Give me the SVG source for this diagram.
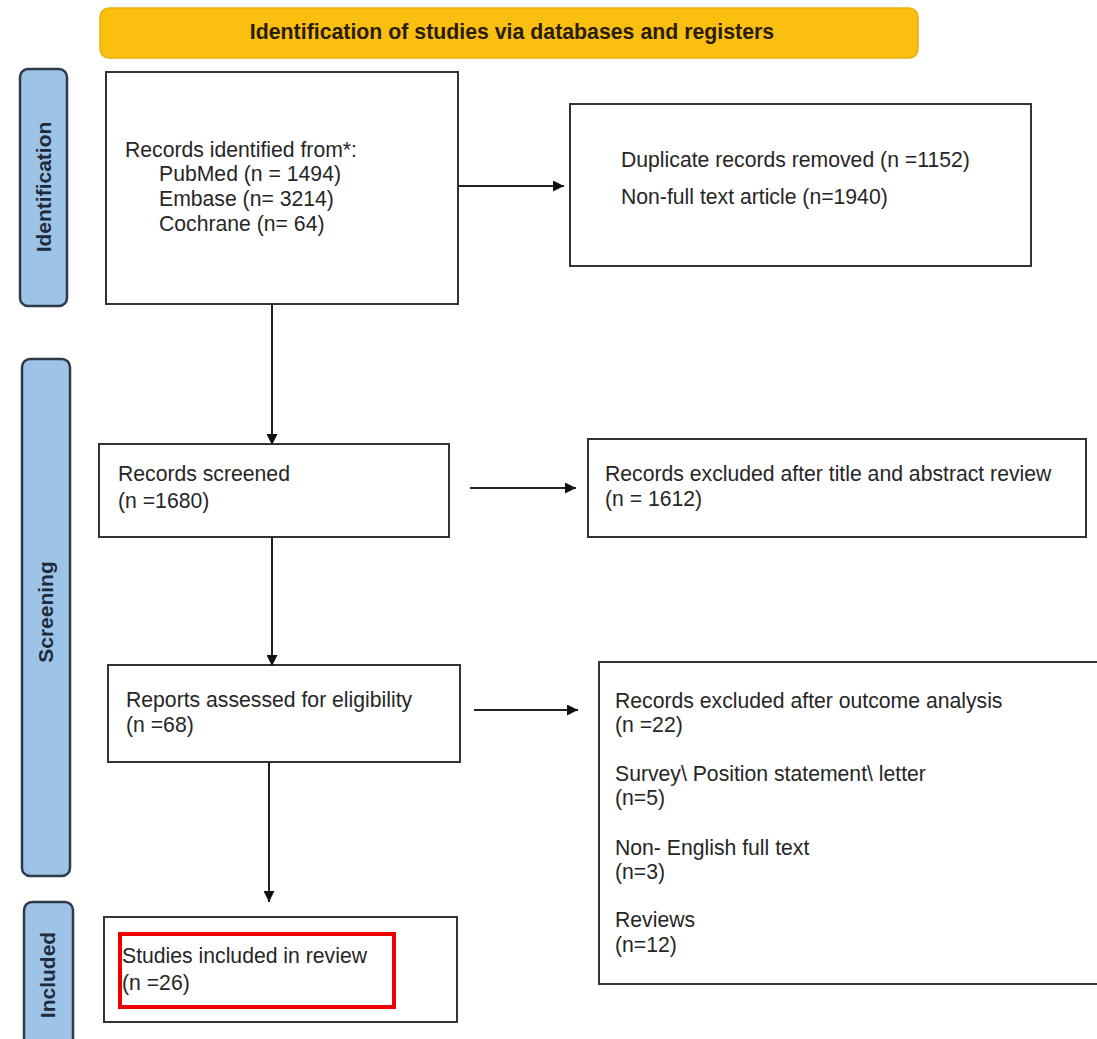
<svg xmlns="http://www.w3.org/2000/svg" width="1097" height="1039" viewBox="0 0 1097 1039">
<defs>
<style>
.box{fill:#fff;stroke:#333;stroke-width:2}
.lane{fill:#9dc3e6;stroke:#2e3a48;stroke-width:2.5}
.t{font-family:"Liberation Sans",Arial,sans-serif;font-size:21.2px;fill:#262626}
.lt{font-family:"Liberation Sans",Arial,sans-serif;font-size:21px;font-weight:bold;fill:#1f2a3a}
.ln{stroke:#222;stroke-width:2;fill:none}
</style>
<marker id="ah" viewBox="0 0 10 10" refX="10" refY="5" markerWidth="11" markerHeight="11" markerUnits="userSpaceOnUse" orient="auto">
<path d="M0,0 L10,5 L0,10 z" fill="#111"/>
</marker>
</defs>
<rect width="1097" height="1039" fill="#fff"/>
<g id="banner">
<rect x="100" y="8" width="818" height="50" rx="9" fill="#fbbf0f" stroke="#e8b00a" stroke-width="1.5"/>
<text x="512" y="39" text-anchor="middle" font-family="Liberation Sans,Arial,sans-serif" font-size="21.3" font-weight="bold" fill="#2a1c00">Identification of studies via databases and registers</text>
</g>
<g id="lane-identification">
<rect class="lane" x="20" y="69" width="47" height="237" rx="8"/>
<text class="lt" transform="translate(51,187) rotate(-90)" text-anchor="middle">Identification</text>
</g>
<g id="lane-screening">
<rect class="lane" x="22" y="359" width="48" height="517" rx="8"/>
<text class="lt" transform="translate(53,612) rotate(-90)" text-anchor="middle">Screening</text>
</g>
<g id="lane-included">
<rect class="lane" x="24" y="902" width="49" height="150" rx="8"/>
<text class="lt" transform="translate(55,975) rotate(-90)" text-anchor="middle">Included</text>
</g>
<g id="records-identified">
<rect class="box" x="106" y="72" width="352" height="232"/>
<text class="t" x="125" y="157">Records identified from*:</text>
<text class="t" x="159" y="181">PubMed (n = 1494)</text>
<text class="t" x="159" y="206">Embase (n= 3214)</text>
<text class="t" x="159" y="231">Cochrane (n= 64)</text>
</g>
<g id="duplicates-removed">
<rect class="box" x="570" y="104" width="461" height="162"/>
<text class="t" x="621" y="167">Duplicate records removed (n =1152)</text>
<text class="t" x="621" y="204">Non-full text article (n=1940)</text>
</g>
<g id="records-screened">
<rect class="box" x="99" y="444" width="350" height="93"/>
<text class="t" x="118" y="481">Records screened</text>
<text class="t" x="118" y="508">(n =1680)</text>
</g>
<g id="records-excluded">
<rect class="box" x="588" y="439" width="498" height="98"/>
<text class="t" x="605" y="481">Records excluded after title and abstract review</text>
<text class="t" x="605" y="506">(n = 1612)</text>
</g>
<g id="reports-assessed">
<rect class="box" x="108" y="665" width="352" height="97"/>
<text class="t" x="126" y="707">Reports assessed for eligibility</text>
<text class="t" x="126" y="732">(n =68)</text>
</g>
<g id="reports-excluded">
<rect class="box" x="599" y="662" width="500" height="322"/>
<text class="t" x="615" y="708">Records excluded after outcome analysis</text>
<text class="t" x="615" y="732">(n =22)</text>
<text class="t" x="615" y="781">Survey\ Position statement\ letter</text>
<text class="t" x="615" y="805">(n=5)</text>
<text class="t" x="615" y="855">Non- English full text</text>
<text class="t" x="615" y="879">(n=3)</text>
<text class="t" x="615" y="927">Reviews</text>
<text class="t" x="615" y="952">(n=12)</text>
</g>
<g id="studies-included">
<rect class="box" x="104" y="917" width="353" height="105"/>
<rect x="120" y="934" width="274" height="73" fill="none" stroke="#ee0000" stroke-width="4"/>
<text class="t" x="122" y="963">Studies included in review</text>
<text class="t" x="122" y="990">(n =26)</text>
</g>
<g id="connectors">
<line class="ln" x1="458" y1="186" x2="564" y2="186" marker-end="url(#ah)"/>
<line class="ln" x1="272" y1="304" x2="272" y2="445" marker-end="url(#ah)"/>
<line class="ln" x1="470" y1="488" x2="576" y2="488" marker-end="url(#ah)"/>
<line class="ln" x1="272" y1="537" x2="272" y2="666" marker-end="url(#ah)"/>
<line class="ln" x1="474" y1="710" x2="578" y2="710" marker-end="url(#ah)"/>
<line class="ln" x1="269" y1="762" x2="269" y2="902" marker-end="url(#ah)"/>
</g>
</svg>
